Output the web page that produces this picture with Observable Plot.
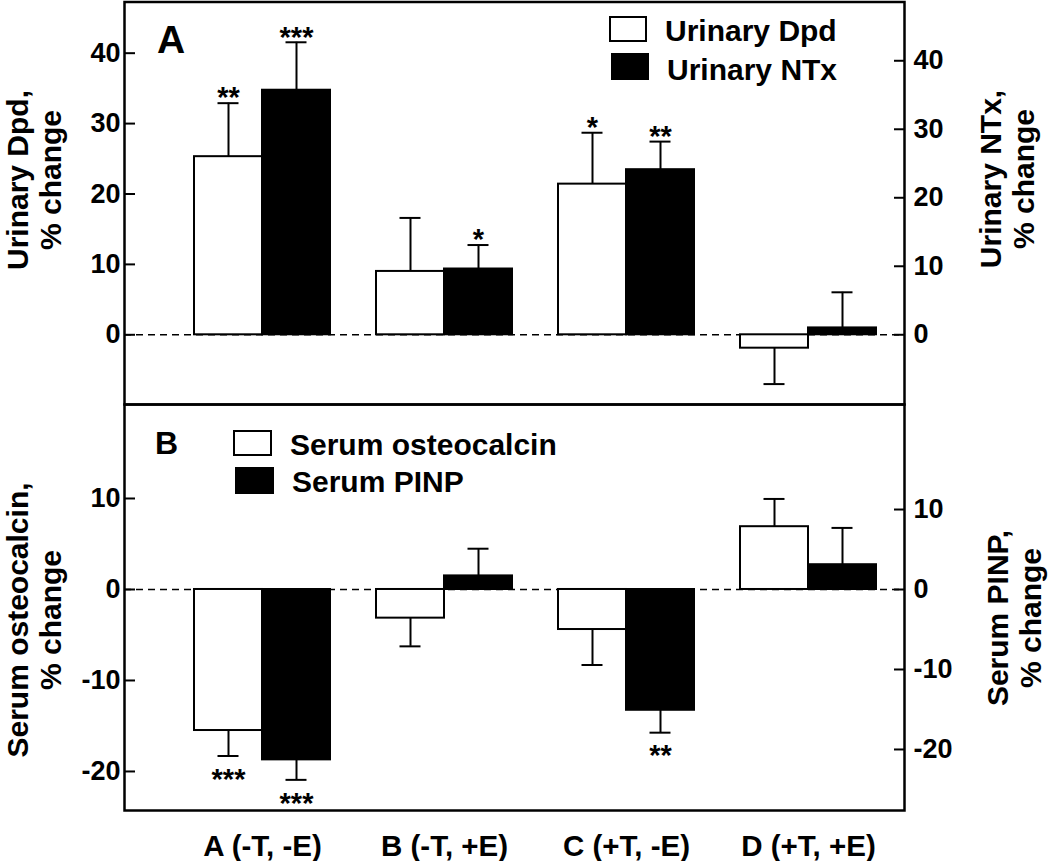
<!DOCTYPE html>
<html><head><meta charset="utf-8">
<script src="https://cdn.jsdelivr.net/npm/d3@7"></script>
<script src="https://cdn.jsdelivr.net/npm/@observablehq/plot@0.6"></script>
<style>
body{margin:0;background:#fff;}
#chart{position:relative;width:1050px;height:861px;font-family:"Liberation Sans",Arial,Helvetica,sans-serif;font-weight:bold;color:#000;overflow:hidden;background:#fff}
#chart svg{position:absolute;left:0}
.t{position:absolute;white-space:nowrap;line-height:1}
.rot{position:absolute;transform:translate(-50%,-50%) rotate(-90deg);text-align:center;font-size:30px;line-height:33px;white-space:nowrap}
.box{position:absolute;box-sizing:border-box;border:2.5px solid #000;background:#fff}
.box.k{background:#000}
</style></head><body><div id="chart"></div>
<script>
// ---- data ----
const groups = ["A (-T, -E)", "B (-T, +E)", "C (+T, -E)", "D (+T, +E)"];

const seriesTop = ["Urinary Dpd", "Urinary NTx"];
const dpdValues = [25.3, 9.0, 21.4, -1.9];
const dpdErrors = [7.6, 7.6, 7.3, 5.1];
const dpdStars  = ["**", "", "*", ""];
const ntxValues = [35.7, 9.6, 24.1, 1.0];
const ntxErrors = [7.0, 3.5, 4.1, 5.2];
const ntxStars  = ["***", "*", "**", ""];

const seriesBottom = ["Serum osteocalcin", "Serum PINP"];
const ocValues   = [-15.5, -3.15, -4.4, 6.9];
const ocErrors   = [2.8, 3.1, 3.9, 3.05];
const ocStars    = ["***", "", "", ""];
const pinpValues = [-21.3, 1.7, -15.1, 3.1];
const pinpErrors = [2.5, 3.4, 2.8, 4.6];
const pinpStars  = ["***", "", "**", ""];

const topLeftTicks = [0, 10, 20, 30, 40];
const topRightTicks = [0, 10, 20, 30, 40];
const bottomLeftTicks = [-20, -10, 0, 10];
const bottomRightTicks = [-20, -10, 0, 10];

const topLeftDomain = [-9.9, 47.27];
const topRightDomain = [-10.18, 48.58];
const bottomLeftDomain = [-24.29, 20.33];
const bottomRightDomain = [-27.63, 23.13];

// ---- helpers ----
function rows(values, errors, stars, series) {
  return groups.map((g, i) => ({
    group: g, series, value: values[i],
    end: values[i] + Math.sign(values[i]) * errors[i], star: stars[i]
  }));
}
const font = "'Liberation Sans', Arial, Helvetica, sans-serif";
const svgStyle = {fontFamily: font, fontWeight: "bold", background: "transparent", overflow: "visible", color: "black"};
const W = 1050;

function basePlot(p) {
  return Plot.plot({
    width: W, height: p.height, marginLeft: 124, marginRight: 146,
    marginTop: p.marginTop, marginBottom: p.marginBottom,
    style: svgStyle,
    y: {domain: p.domain},
    marks: [
      Plot.ruleY([0], {stroke: "black", strokeWidth: 1.5, strokeDasharray: "7,5"}),
      Plot.axisY({anchor: "left", ticks: p.ticks, tickFormat: d => String(d), tickSize: -11, tickPadding: 15, strokeWidth: 2, fontSize: 27, fontWeight: "bold", label: null}),
      Plot.frame({stroke: "black", strokeWidth: 2.5})
    ]
  });
}
function rightAxisPlot(p) {
  return Plot.plot({
    width: W, height: p.height, marginLeft: 124, marginRight: 146,
    marginTop: p.marginTop, marginBottom: p.marginBottom,
    style: svgStyle,
    y: {domain: p.domain},
    marks: [
      Plot.axisY({anchor: "right", ticks: p.ticks, tickFormat: d => String(d), tickSize: -11, tickPadding: 20, strokeWidth: 2, fontSize: 27, fontWeight: "bold", label: null})
    ]
  });
}
function barsPlot(p) {
  const data = p.rows;
  const marks = [
    Plot.barY(data, {fx: "group", x: "series", y: "value", fill: p.fill, stroke: "black", strokeWidth: 2}),
    Plot.ruleX(data, {fx: "group", x: "series", y1: "value", y2: "end", stroke: "black", strokeWidth: 2}),
    Plot.tickY(data, {fx: "group", x: "series", y: "end", stroke: "black", strokeWidth: 2, insetLeft: 23.5, insetRight: 23.5}),
    Plot.text(data.filter(d => d.star && d.value > 0), {fx: "group", x: "series", y: "end", text: "star", dy: -5, fontSize: 29, fontWeight: "bold"}),
    Plot.text(data.filter(d => d.star && d.value < 0), {fx: "group", x: "series", y: "end", text: "star", dy: 23.5, fontSize: 29, fontWeight: "bold"})
  ];
  if (p.fxAxis) marks.push(Plot.axisFx({anchor: "bottom", tickSize: 0, tickPadding: 25, fontSize: 29.5, fontWeight: "bold", label: null}));
  return Plot.plot({
    width: W, height: p.height, marginLeft: 170, marginRight: 150,
    marginTop: p.marginTop, marginBottom: p.marginBottom,
    style: svgStyle,
    fx: p.fxAxis ? {domain: groups, padding: 0} : {domain: groups, padding: 0, axis: null},
    x: {domain: p.series, paddingInner: 0, paddingOuter: 0.32, axis: null},
    y: {domain: p.domain, axis: null},
    marks
  });
}

const chart = document.getElementById("chart");
function place(svg, top) { svg.style.top = top + "px"; chart.appendChild(svg); }

// ---- panel A ----
const A = {height: 405, marginTop: 1.5, marginBottom: 1};
place(basePlot({...A, domain: topLeftDomain, ticks: topLeftTicks}), 0);
place(rightAxisPlot({...A, domain: topRightDomain, ticks: topRightTicks}), 0);
place(barsPlot({...A, domain: topLeftDomain, series: seriesTop, rows: rows(dpdValues, dpdErrors, dpdStars, seriesTop[0]), fill: "white"}), 0);
place(barsPlot({...A, domain: topRightDomain, series: seriesTop, rows: rows(ntxValues, ntxErrors, ntxStars, seriesTop[1]), fill: "black"}), 0);

// ---- panel B ----
const B = {height: 458, marginTop: 1, marginBottom: 51};
place(basePlot({...B, domain: bottomLeftDomain, ticks: bottomLeftTicks}), 403);
place(rightAxisPlot({...B, domain: bottomRightDomain, ticks: bottomRightTicks}), 403);
place(barsPlot({...B, domain: bottomLeftDomain, series: seriesBottom, rows: rows(ocValues, ocErrors, ocStars, seriesBottom[0]), fill: "white", fxAxis: true}), 403);
place(barsPlot({...B, domain: bottomRightDomain, series: seriesBottom, rows: rows(pinpValues, pinpErrors, pinpStars, seriesBottom[1]), fill: "black"}), 403);

// ---- annotations: panel letters, legends, axis titles ----
function div(cls, css, html) {
  const d = document.createElement("div");
  d.className = cls; d.style.cssText = css; if (html != null) d.innerHTML = html;
  chart.appendChild(d); return d;
}
div("t", "left:157px;top:20px;font-size:39px;", "A");
div("t", "left:155px;top:427px;font-size:32px;", "B");

div("box", "left:609px;top:16px;width:38px;height:26px;");
div("box k", "left:611px;top:53px;width:38px;height:27px;");
div("t", "left:665px;top:16px;font-size:30px;", seriesTop[0]);
div("t", "left:667px;top:55px;font-size:30px;", seriesTop[1]);

div("box", "left:233px;top:430px;width:39px;height:26px;");
div("box k", "left:235px;top:467px;width:39px;height:27px;");
div("t", "left:290px;top:430px;font-size:30px;", seriesBottom[0]);
div("t", "left:292px;top:467px;font-size:30px;", seriesBottom[1]);

div("rot", "left:34px;top:180px;", "Urinary Dpd,<br>% change");
div("rot", "left:1007px;top:179px;", "Urinary NTx,<br>% change");
div("rot", "left:34px;top:620px;", "Serum osteocalcin,<br>% change");
div("rot", "left:1014px;top:618px;", "Serum PINP,<br>% change");
</script></body></html>
